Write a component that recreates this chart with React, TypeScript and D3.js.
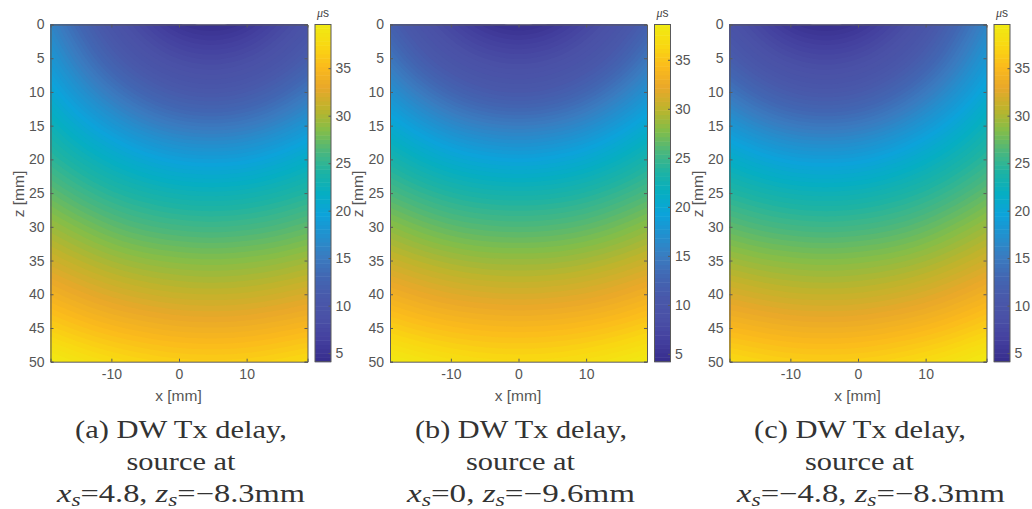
import React, { useEffect, useRef } from 'react'
import * as d3 from 'd3'

// delay, rows z = 0..50 step 5, columns x = -19..19 step 4.75
const gridX = [-19, -14.25, -9.5, -4.75, 0, 4.75, 9.5, 14.25, 19]
const gridZ = [0, 5, 10, 15, 20, 25, 30, 35, 40, 45, 50]

const delayA = [
  [16.2, 12.5, 9.3, 7.1, 4.9, 4.1, 4.9, 7.1, 9.3],
  [18.1, 14.6, 11.4, 9.2, 8.0, 7.5, 8.0, 9.2, 11.4],
  [20.3, 17.3, 14.6, 12.3, 10.8, 10.3, 10.8, 12.3, 14.6],
  [22.8, 20.3, 18.1, 16.2, 15.0, 14.6, 15.0, 16.2, 18.1],
  [24.8, 23.2, 21.6, 20.2, 19.2, 19.0, 19.2, 20.2, 21.6],
  [27.1, 25.6, 24.4, 23.6, 23.0, 22.8, 23.0, 23.6, 24.4],
  [29.4, 28.2, 27.0, 26.2, 25.8, 25.6, 25.8, 26.2, 27.0],
  [31.6, 30.5, 29.6, 29.0, 28.7, 28.5, 28.7, 29.0, 29.6],
  [34.1, 33.0, 32.1, 31.5, 31.1, 31.0, 31.1, 31.5, 32.1],
  [36.6, 35.6, 34.8, 34.3, 33.9, 33.8, 33.9, 34.3, 34.8],
  [39.6, 38.5, 37.7, 37.1, 36.7, 36.6, 36.7, 37.1, 37.7],
]

const delayB = [
  [11.9, 9.1, 7.0, 5.1, 4.2, 5.1, 7.0, 9.1, 11.9],
  [14.3, 11.2, 9.2, 8.1, 7.7, 8.1, 9.2, 11.2, 14.3],
  [17.2, 14.5, 12.3, 10.9, 10.4, 10.9, 12.3, 14.5, 17.2],
  [20.3, 18.2, 16.3, 15.3, 14.9, 15.3, 16.3, 18.2, 20.3],
  [23.2, 21.6, 20.3, 19.5, 19.1, 19.5, 20.3, 21.6, 23.2],
  [25.6, 24.5, 23.6, 23.1, 23.0, 23.1, 23.6, 24.5, 25.6],
  [28.2, 27.1, 26.3, 25.9, 25.7, 25.9, 26.3, 27.1, 28.2],
  [30.5, 29.7, 29.1, 28.7, 28.7, 28.7, 29.1, 29.7, 30.5],
  [33.1, 32.2, 31.6, 31.3, 31.1, 31.3, 31.6, 32.2, 33.1],
  [35.7, 34.9, 34.4, 34.1, 34.0, 34.1, 34.4, 34.9, 35.7],
  [38.6, 37.8, 37.2, 36.8, 36.7, 36.8, 37.2, 37.8, 38.6],
]

const delayC = [
  [9.3, 7.1, 4.9, 4.1, 4.9, 7.1, 9.3, 12.5, 16.2],
  [11.4, 9.2, 8.0, 7.5, 8.0, 9.2, 11.4, 14.6, 18.1],
  [14.6, 12.3, 10.8, 10.3, 10.8, 12.3, 14.6, 17.3, 20.3],
  [18.1, 16.2, 15.0, 14.6, 15.0, 16.2, 18.1, 20.3, 22.8],
  [21.6, 20.2, 19.2, 19.0, 19.2, 20.2, 21.6, 23.2, 24.8],
  [24.4, 23.6, 23.0, 22.8, 23.0, 23.6, 24.4, 25.6, 27.1],
  [27.0, 26.2, 25.8, 25.6, 25.8, 26.2, 27.0, 28.2, 29.4],
  [29.6, 29.0, 28.7, 28.5, 28.7, 29.0, 29.6, 30.5, 31.6],
  [32.1, 31.5, 31.1, 31.0, 31.1, 31.5, 32.1, 33.0, 34.1],
  [34.8, 34.3, 33.9, 33.8, 33.9, 34.3, 34.8, 35.6, 36.6],
  [37.7, 37.1, 36.7, 36.6, 36.7, 37.1, 37.7, 38.5, 39.6],
]

const xTicks = [-10, 0, 10]
const zTicks = [0, 5, 10, 15, 20, 25, 30, 35, 40, 45, 50]
const barTicks = [5, 10, 15, 20, 25, 30, 35]
// parula as it looks in the scan: duller blues, stronger greens
const parula = ['#362c8c', '#433f9e', '#4a50a6', '#4958aa', '#4266b2', '#3a7cc0', '#2290ce', '#0ca3da', '#06aec2', '#1db3a4', '#4cb77c', '#84bd48', '#bdb42c', '#e8a82a', '#fbba1c', '#f9d812', '#f0ea12']

const panels = [
  { values: delayA, left: 50.5, domain: [4.1, 39.6], tag: '(a)', xs: '4.8', zs: '8.3', c1: 181, c2: 181, w3: 248, c3: 181 },
  { values: delayB, left: 390, domain: [4.2, 38.6], tag: '(b)', xs: '0', zs: '9.6', c1: 521, c2: 520.5, w3: 228, c3: 521 },
  { values: delayC, left: 729.5, domain: [4.1, 39.6], tag: '(c)', xs: '\u22124.8', zs: '8.3', c1: 860, c2: 859.5, w3: 268, c3: 871 },
]

const plotW = 257
const top = 24.5
const bottom = 361.7
const step = 8
const levelGap = 0.45
const axisColor = '#5a5a5a'

// smooth the coarse table so the filled contours come out round
function refine(table: number[][]) {
  const rows = table.map(row => {
    const f = d3.interpolateBasis(row)
    return d3.range((row.length - 1) * step + 1).map(i => f(i / ((row.length - 1) * step)))
  })
  const n = rows[0].length
  const m = (table.length - 1) * step + 1
  const out: number[] = new Array(n * m)
  for (let c = 0; c < n; c++) {
    const f = d3.interpolateBasis(rows.map(r => r[c]))
    for (let r = 0; r < m; r++) out[r * n + c] = f(r / (m - 1))
  }
  return { out, n, m }
}

function styleAxis(g: any) {
  g.selectAll('path').attr('stroke', axisColor).attr('stroke-width', 1)
  g.selectAll('line').attr('stroke', axisColor).attr('stroke-width', 1)
  g.selectAll('text')
    .attr('fill', '#555')
    .style('font-family', '"Liberation Sans", Arial, sans-serif')
    .style('font-size', '14px')
}

const App = () => {
  const svgRef = useRef<SVGSVGElement>(null)

  useEffect(() => {
    const svg = d3.select(svgRef.current)
    svg.selectAll('*').remove()

    panels.forEach((p, idx) => {
      const right = p.left + plotW
      const x = d3.scaleLinear().domain([gridX[0], gridX[gridX.length - 1]]).range([p.left, right])
      const z = d3.scaleLinear().domain([gridZ[0], gridZ[gridZ.length - 1]]).range([top, bottom])
      const color = d3.scaleSequential(d3.piecewise(d3.interpolateRgb, parula)).domain(p.domain)

      const { out, n, m } = refine(p.values)
      const gx = d3.scaleLinear().domain([0.5, n - 0.5]).range([p.left, right])
      const gy = d3.scaleLinear().domain([0.5, m - 0.5]).range([top, bottom])
      const path = d3.geoPath(d3.geoTransform({
        point(a, b) { this.stream.point(gx(a), gy(b)) },
      }))
      const levels = d3.range(p.domain[0], p.domain[1], levelGap)
      const contours = d3.contours().size([n, m]).thresholds(levels)(out)

      const clipId = `plot-clip-${idx}`
      svg.append('clipPath').attr('id', clipId)
        .append('rect').attr('x', p.left).attr('y', top).attr('width', plotW).attr('height', bottom - top)

      const field = svg.append('g').attr('clip-path', `url(#${clipId})`)
      field.append('rect')
        .attr('x', p.left).attr('y', top).attr('width', plotW).attr('height', bottom - top)
        .attr('fill', color(p.domain[0]))
      field.selectAll('path').data(contours).enter().append('path')
        .attr('d', d => path(d))
        .attr('fill', d => color(d.value + levelGap / 2))

      // frame and inward ticks on all four sides
      svg.append('g').attr('transform', `translate(0,${bottom})`)
        .call(d3.axisBottom(x).tickValues(xTicks).tickFormat(d => String(d)).tickSize(-3).tickPadding(7))
        .call(styleAxis)
      svg.append('g').attr('transform', `translate(0,${top})`)
        .call(d3.axisTop(x).tickValues(xTicks).tickFormat(() => '').tickSize(-3))
        .call(styleAxis)
      svg.append('g').attr('transform', `translate(${p.left},0)`)
        .call(d3.axisLeft(z).tickValues(zTicks).tickSize(-3).tickPadding(6))
        .call(styleAxis)
      svg.append('g').attr('transform', `translate(${right},0)`)
        .call(d3.axisRight(z).tickValues(zTicks).tickFormat(() => '').tickSize(-3))
        .call(styleAxis)

      const label = (t: string) => svg.append('text')
        .attr('fill', '#555')
        .attr('text-anchor', 'middle')
        .style('font-family', '"Liberation Sans", Arial, sans-serif')
        .style('font-size', '15.5px')
        .text(t)
      label('x [mm]').attr('x', x(0) - 0.5).attr('y', 401)
      label('z [mm]').attr('transform', `translate(${p.left - 27},194) rotate(-90)`)

      // colour bar
      const barX = right + 7.5
      const barW = 16
      const c = d3.scaleLinear().domain(p.domain).range([bottom, top])
      const bar = svg.append('g')
      const barLevels = d3.range(p.domain[0], p.domain[1], levelGap)
      bar.selectAll('rect').data(barLevels).enter().append('rect')
        .attr('x', barX).attr('width', barW)
        .attr('y', d => c(Math.min(d + levelGap, p.domain[1])))
        .attr('height', d => c(d) - c(Math.min(d + levelGap, p.domain[1])) + 0.5)
        .attr('fill', d => color(d + levelGap / 2))
      svg.append('rect')
        .attr('x', barX).attr('y', top).attr('width', barW).attr('height', bottom - top)
        .attr('fill', 'none').attr('stroke', axisColor)
      svg.append('g').attr('transform', `translate(${barX + barW},0)`)
        .call(d3.axisRight(c).tickValues(barTicks).tickSize(-2.5).tickPadding(4.5))
        .call(styleAxis)
        .call(g => g.select('.domain').remove())

      const unit = svg.append('text')
        .attr('x', barX + barW / 2).attr('y', 17)
        .attr('text-anchor', 'middle')
        .attr('fill', '#444')
        .style('font-size', '12px')
      unit.append('tspan').style('font-family', '"Liberation Serif", serif').style('font-style', 'italic').text('\u03bc')
      unit.append('tspan').style('font-family', '"Liberation Sans", sans-serif').text('s')

      // caption lines
      const caption = (cx: number, y: number, w: number) => svg.append('text')
        .attr('x', cx).attr('y', y)
        .attr('text-anchor', 'middle')
        .attr('fill', '#333')
        .attr('textLength', w)
        .attr('lengthAdjust', 'spacingAndGlyphs')
        .style('font-family', '"Liberation Serif", "DejaVu Serif", serif')
        .style('font-size', '25px')
      caption(p.c1, 438, 212).text(`${p.tag} DW Tx delay,`)
      caption(p.c2, 470, 109).text('source at')
      const math = caption(p.c3, 502, p.w3)
      const sym = (s: string) => math.append('tspan').style('font-style', 'italic').text(s)
      const sub = () => math.append('tspan').attr('dy', 4).style('font-style', 'italic').style('font-size', '18px').text('s')
      sym('x')
      sub()
      math.append('tspan').attr('dy', -4).text(`=${p.xs}, `)
      sym('z')
      sub()
      math.append('tspan').attr('dy', -4).text(`=\u2212${p.zs}mm`)
    })
  }, [])

  return (
    <svg ref={svgRef} width={1032} height={509} style={{ position: 'absolute', left: 0, top: 0, background: '#fff' }} />
  )
}

export default App
